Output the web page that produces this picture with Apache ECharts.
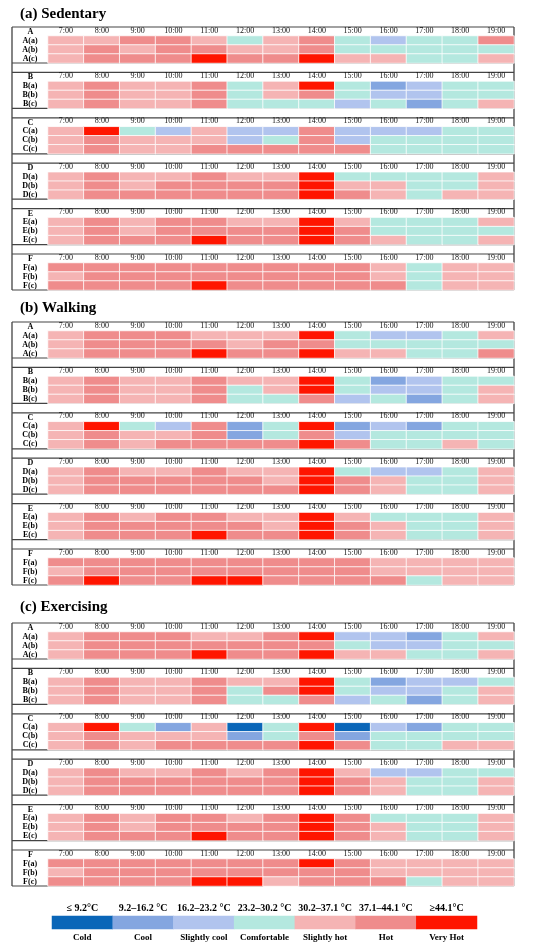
<!DOCTYPE html>
<html>
<head>
<meta charset="utf-8">
<script src="https://cdn.jsdelivr.net/npm/echarts@6/dist/echarts.min.js"></script>
<style>
  html, body { margin: 0; padding: 0; background: #fff; }
  #main { width: 550px; height: 948px; }
</style>
</head>
<body>
<div id="main"></div>
<script>
// thermal sensation classes: 0 cold ... 6 very hot
const times = ["7:00", "8:00", "9:00", "10:00", "11:00", "12:00", "13:00",
  "14:00", "15:00", "16:00", "17:00", "18:00", "19:00"];
const blocks = ["A", "B", "C", "D", "E", "F"];
const rowSuffix = ["(a)", "(b)", "(c)"];
const sectionTitles = ["(a) Sedentary", "(b) Walking", "(c) Exercising"];
const classRanges = ["≤ 9.2°C", "9.2–16.2 °C", "16.2–23.2 °C", "23.2–30.2 °C",
  "30.2–37.1 °C", "37.1–44.1 °C", "≥44.1°C"];
const classNames = ["Cold", "Cool", "Slightly cool", "Comfortable",
  "Slightly hot", "Hot", "Very Hot"];
const classValues = [0, 1, 2, 3, 4, 5, 6];

// (a) Sedentary
const sedA = [
  [4, 4, 5, 5, 4, 3, 4, 5, 3, 2, 3, 3, 5],
  [4, 5, 4, 5, 5, 4, 4, 5, 3, 3, 3, 3, 3],
  [4, 5, 5, 5, 6, 5, 5, 6, 4, 4, 3, 3, 4]
];
const sedB = [
  [4, 5, 4, 4, 5, 3, 4, 6, 3, 1, 2, 3, 3],
  [4, 5, 4, 4, 5, 3, 4, 5, 3, 2, 2, 3, 3],
  [4, 5, 4, 4, 5, 3, 3, 3, 2, 3, 1, 3, 4]
];
const sedC = [
  [4, 6, 3, 2, 4, 2, 2, 5, 2, 2, 2, 3, 3],
  [4, 5, 4, 4, 4, 2, 3, 5, 2, 3, 3, 3, 3],
  [4, 5, 4, 4, 5, 5, 5, 5, 5, 3, 3, 3, 3]
];
const sedD = [
  [4, 5, 4, 4, 5, 4, 4, 6, 3, 3, 3, 3, 4],
  [4, 5, 4, 5, 5, 5, 5, 6, 4, 4, 3, 3, 4],
  [4, 5, 5, 5, 5, 5, 5, 6, 5, 4, 3, 4, 4]
];
const sedE = [
  [4, 5, 4, 5, 5, 4, 4, 6, 4, 3, 3, 3, 4],
  [4, 5, 4, 5, 5, 5, 5, 6, 5, 3, 3, 3, 3],
  [4, 5, 5, 5, 6, 5, 5, 6, 5, 4, 3, 3, 4]
];
const sedF = [
  [5, 5, 5, 5, 5, 5, 5, 5, 5, 4, 3, 4, 4],
  [4, 5, 5, 5, 5, 5, 5, 5, 5, 4, 3, 4, 4],
  [5, 5, 5, 5, 6, 5, 5, 5, 5, 5, 3, 4, 4]
];

// (b) Walking
const walkA = [
  [4, 5, 5, 5, 4, 4, 4, 6, 3, 2, 2, 3, 4],
  [4, 5, 5, 5, 5, 4, 5, 5, 3, 3, 3, 3, 3],
  [4, 5, 5, 5, 6, 5, 5, 6, 4, 4, 3, 3, 5]
];
const walkB = [
  [4, 5, 4, 4, 5, 4, 4, 6, 3, 1, 2, 3, 3],
  [4, 5, 4, 4, 5, 3, 4, 6, 3, 2, 2, 3, 4],
  [4, 5, 4, 4, 5, 3, 3, 5, 2, 3, 1, 3, 4]
];
const walkC = [
  [4, 6, 3, 2, 5, 1, 3, 6, 1, 2, 1, 3, 3],
  [4, 5, 4, 4, 5, 1, 3, 5, 2, 3, 3, 3, 3],
  [4, 5, 4, 5, 5, 5, 5, 6, 5, 3, 3, 4, 3]
];
const walkD = [
  [4, 5, 4, 4, 5, 4, 4, 6, 3, 2, 2, 3, 4],
  [4, 5, 5, 5, 5, 5, 4, 6, 5, 4, 3, 3, 4],
  [4, 5, 5, 5, 5, 5, 5, 6, 5, 4, 3, 3, 4]
];
const walkE = [
  [4, 5, 4, 5, 5, 4, 4, 6, 4, 3, 3, 3, 4],
  [4, 5, 5, 5, 5, 5, 4, 6, 5, 4, 3, 3, 4],
  [4, 5, 5, 5, 6, 5, 5, 6, 5, 4, 3, 3, 4]
];
const walkF = [
  [5, 5, 5, 5, 5, 5, 5, 5, 5, 4, 4, 4, 4],
  [4, 5, 5, 5, 5, 5, 5, 5, 5, 4, 4, 4, 4],
  [5, 6, 5, 5, 6, 6, 5, 5, 5, 5, 3, 4, 4]
];

// (c) Exercising
const exA = [
  [4, 5, 5, 5, 4, 4, 5, 6, 2, 2, 1, 3, 4],
  [4, 5, 5, 5, 5, 5, 5, 5, 3, 2, 2, 3, 3],
  [4, 5, 5, 5, 6, 5, 5, 6, 4, 4, 3, 3, 4]
];
const exB = [
  [4, 5, 4, 4, 5, 4, 4, 6, 3, 1, 2, 2, 3],
  [4, 5, 4, 4, 5, 3, 5, 6, 3, 2, 2, 3, 4],
  [4, 5, 4, 4, 5, 3, 3, 5, 2, 3, 1, 3, 4]
];
const exC = [
  [4, 6, 3, 1, 4, 0, 3, 6, 0, 2, 1, 3, 3],
  [4, 5, 4, 4, 4, 1, 3, 5, 1, 3, 3, 3, 3],
  [4, 5, 4, 5, 5, 5, 5, 6, 5, 3, 3, 4, 4]
];
const exD = [
  [4, 5, 4, 4, 5, 4, 5, 6, 4, 2, 2, 3, 3],
  [4, 5, 5, 5, 5, 5, 5, 6, 5, 4, 3, 3, 4],
  [4, 5, 5, 5, 5, 5, 5, 6, 5, 4, 3, 3, 4]
];
const exE = [
  [4, 5, 4, 5, 5, 4, 5, 6, 5, 3, 3, 3, 4],
  [4, 5, 4, 5, 5, 5, 5, 6, 5, 4, 3, 3, 4],
  [4, 5, 5, 5, 6, 5, 5, 6, 5, 4, 3, 3, 4]
];
const exF = [
  [5, 5, 5, 5, 5, 5, 5, 6, 5, 4, 4, 4, 4],
  [4, 5, 5, 5, 5, 5, 5, 5, 5, 4, 4, 4, 4],
  [5, 5, 5, 5, 6, 6, 4, 5, 5, 5, 3, 4, 4]
];

const sections = [
  [sedA, sedB, sedC, sedD, sedE, sedF],
  [walkA, walkB, walkC, walkD, walkE, walkF],
  [exA, exB, exC, exD, exE, exF]
];

// styling / layout
const palette = ["#0a66b8", "#84a6e0", "#b1c4ee", "#b4e8df", "#f5b4b4", "#ef8c8c", "#ff1500"];
const serif = "'Liberation Serif', 'Times New Roman', serif";
const sectionTop = [27, 322, 623];
const titleY = [16, 310, 609];
const blockStep = 45.4;
const blockH = 36;
const headerH = 9;
const frameL = 12, frameR = 514, cellL = 48;
const cellW = (frameR - cellL) / times.length;
// the original figure has a break in the bottom rule of the last block here
const openBottom = { "1-5": 6, "2-5": 6 };

function hLine(x1, x2, y) {
  return {
    type: "line", shape: { x1: x1, y1: y, x2: x2, y2: y },
    style: { stroke: "#444", lineWidth: 1.2 }
  };
}

window.onload = function () {
  const chart = echarts.init(document.getElementById("main"));

  const grids = [], xAxes = [], yAxes = [], series = [], graphics = [];

  sections.forEach((blockData, s) => {
    graphics.push({
      type: "text", left: 20, top: titleY[s] - 9,
      style: { text: sectionTitles[s], font: "bold 15px " + serif, fill: "#000" }
    });
    const secBottom = sectionTop[s] + blockStep * 5 + blockH;
    [frameL, frameR].forEach(x => graphics.push({
      type: "line", shape: { x1: x, y1: sectionTop[s], x2: x, y2: secBottom },
      style: { stroke: "#333", lineWidth: 1.2 }
    }));

    blockData.forEach((rows, b) => {
      const top = sectionTop[s] + blockStep * b;
      const idx = grids.length;

      graphics.push(hLine(frameL, frameR, top));
      const gap = openBottom[s + "-" + b];
      if (gap === undefined) {
        graphics.push(hLine(frameL, frameR, top + blockH));
      } else {
        graphics.push(hLine(frameL, cellL + gap * cellW, top + blockH));
        graphics.push(hLine(cellL + (gap + 1) * cellW, frameR, top + blockH));
      }
      graphics.push({
        type: "text", x: (frameL + cellL) / 2 + 0.5, y: top + headerH / 2 + 0.5,
        style: {
          text: blocks[b], font: "bold 8px " + serif, fill: "#000",
          align: "center", verticalAlign: "middle"
        }
      });

      grids.push({ left: cellL, right: 550 - frameR, top: top + headerH, height: blockH - headerH });
      xAxes.push({
        type: "category", gridIndex: idx, position: "top", data: times,
        axisLine: { show: false }, axisTick: { show: false }, splitLine: { show: false },
        axisLabel: { fontFamily: serif, fontSize: 8, color: "#111", margin: 1.5, interval: 0 }
      });
      yAxes.push({
        type: "category", gridIndex: idx, inverse: true,
        data: rowSuffix.map(r => blocks[b] + r),
        axisLine: { show: false }, axisTick: { show: false }, splitLine: { show: false },
        axisLabel: {
          fontFamily: serif, fontSize: 8, fontWeight: "bold", color: "#000",
          align: "center", margin: cellL - (frameL + cellL) / 2, interval: 0
        }
      });

      const data = [];
      rows.forEach((vals, r) => vals.forEach((v, t) => data.push([t, r, v])));
      series.push({
        type: "heatmap", xAxisIndex: idx, yAxisIndex: idx, data: data,
        itemStyle: { borderColor: "#fff", borderWidth: 0.8 },
        emphasis: { disabled: true }
      });
    });
  });

  // legend strip drawn as its own heatmap row
  const legIdx = grids.length;
  grids.push({ left: 52, right: 73, top: 916, height: 13 });
  xAxes.push({
    type: "category", gridIndex: legIdx, position: "top", data: classRanges,
    axisLine: { show: false }, axisTick: { show: false },
    axisLabel: { fontFamily: serif, fontSize: 10, fontWeight: "bold", color: "#000", margin: 3, interval: 0 }
  });
  xAxes.push({
    type: "category", gridIndex: legIdx, position: "bottom", data: classNames,
    axisLine: { show: false }, axisTick: { show: false },
    axisLabel: { fontFamily: serif, fontSize: 9, fontWeight: "bold", color: "#000", margin: 4, interval: 0 }
  });
  yAxes.push({ type: "category", gridIndex: legIdx, data: [""], show: false });
  series.push({
    type: "heatmap", xAxisIndex: xAxes.length - 2, yAxisIndex: legIdx,
    data: classValues.map((v, i) => [i, 0, v]),
    emphasis: { disabled: true }
  });

  chart.setOption({
    animation: false,
    backgroundColor: "#fff",
    grid: grids,
    xAxis: xAxes,
    yAxis: yAxes,
    visualMap: {
      type: "piecewise", show: false, dimension: 2,
      pieces: classValues.map(v => ({ value: v, color: palette[v] }))
    },
    series: series,
    graphic: graphics
  });
};
</script>
</body>
</html>
